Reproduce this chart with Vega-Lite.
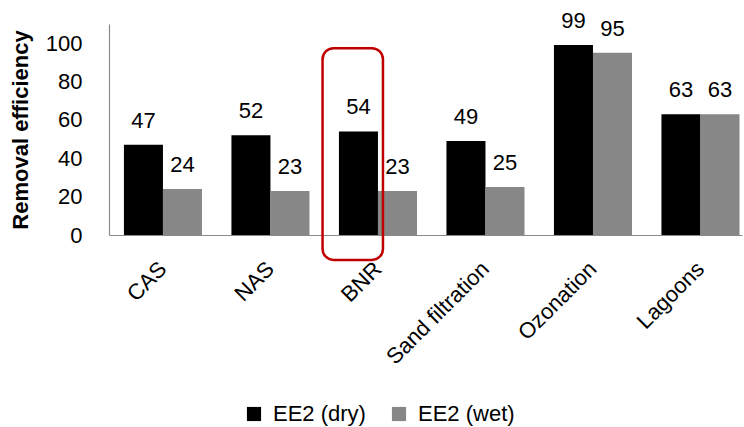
{
  "$schema": "https://vega.github.io/schema/vega-lite/v6.json",
  "autosize": {"type": "none"},
  "width": 633,
  "height": 211,
  "padding": {"left": 109, "top": 24, "right": 2, "bottom": 192},
  "background": "white",
  "config": {
    "view": {"stroke": null},
    "font": "Liberation Sans",
    "axis": {"labelFont": "Liberation Sans", "titleFont": "Liberation Sans", "labelColor": "black", "titleColor": "black", "grid": false, "ticks": false, "domainColor": "#8a8a8a", "domainWidth": 1.2}
  },
  "datasets": {
    "bars": [
      {"process": "CAS", "series": "EE2 (dry)", "value": 47},
      {"process": "CAS", "series": "EE2 (wet)", "value": 24},
      {"process": "NAS", "series": "EE2 (dry)", "value": 52},
      {"process": "NAS", "series": "EE2 (wet)", "value": 23},
      {"process": "BNR", "series": "EE2 (dry)", "value": 54},
      {"process": "BNR", "series": "EE2 (wet)", "value": 23},
      {"process": "Sand filtration", "series": "EE2 (dry)", "value": 49},
      {"process": "Sand filtration", "series": "EE2 (wet)", "value": 25},
      {"process": "Ozonation", "series": "EE2 (dry)", "value": 99},
      {"process": "Ozonation", "series": "EE2 (wet)", "value": 95},
      {"process": "Lagoons", "series": "EE2 (dry)", "value": 63},
      {"process": "Lagoons", "series": "EE2 (wet)", "value": 63}
    ],
    "highlight": [
      {"process": "BNR", "top": 97.4, "bottom": -13}
    ]
  },
  "layer": [
    {
      "data": {"name": "bars"},
      "mark": {"type": "bar"},
      "encoding": {
        "x": {
          "field": "process", "type": "nominal", "sort": null,
          "scale": {"paddingInner": 0.274, "paddingOuter": 0.081, "align": 0.857},
          "axis": {"title": null, "labelAngle": -45, "labelFontSize": 22, "labelPadding": 30, "labelAlign": "right", "labelBaseline": "middle"}
        },
        "xOffset": {"field": "series", "type": "nominal", "scale": {"paddingInner": 0, "paddingOuter": 0}},
        "y": {
          "field": "value", "type": "quantitative",
          "scale": {"domain": [0, 110], "nice": false},
          "axis": {"title": "Removal efficiency", "values": [0, 20, 40, 60, 80, 100], "labelFontSize": 22, "labelPadding": 27, "titleFontSize": 22, "titleFontWeight": "bold", "titlePadding": 13}
        },
        "color": {
          "field": "series", "type": "nominal",
          "scale": {"domain": ["EE2 (dry)", "EE2 (wet)"], "range": ["#000000", "#878787"]},
          "legend": {"title": null, "orient": "none", "legendX": 134, "legendY": 379, "direction": "horizontal", "symbolType": "square", "symbolSize": 200, "symbolStrokeWidth": 0, "labelFontSize": 22, "labelColor": "black", "columnPadding": 22, "labelOffset": 8}
        }
      }
    },
    {
      "data": {"name": "bars"},
      "mark": {"type": "text", "fontSize": 22, "baseline": "alphabetic", "dy": -17, "color": "black"},
      "encoding": {
        "x": {"field": "process", "type": "nominal", "sort": null},
        "xOffset": {"field": "series", "type": "nominal"},
        "y": {"field": "value", "type": "quantitative"},
        "text": {"field": "value", "type": "quantitative"}
      }
    },
    {
      "data": {"name": "highlight"},
      "mark": {"type": "rect", "fill": null, "fillOpacity": 0, "stroke": "#c00000", "strokeWidth": 2.5, "cornerRadius": 11},
      "encoding": {
        "x": {"field": "process", "type": "nominal", "sort": null, "bandPosition": -0.21},
        "x2": {"field": "process", "bandPosition": 0.564},
        "y": {"field": "top", "type": "quantitative"},
        "y2": {"field": "bottom"}
      }
    }
  ]
}
